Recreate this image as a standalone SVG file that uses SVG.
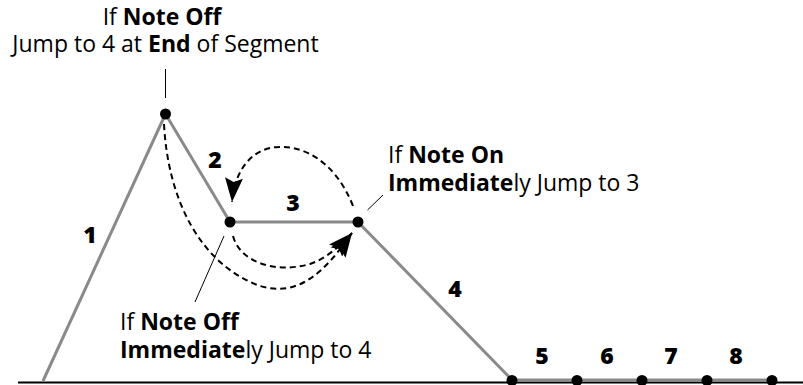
<svg xmlns="http://www.w3.org/2000/svg" width="803" height="385" viewBox="0 0 803 385">
<style>
.seg{stroke:#8a8a8a;stroke-width:3;fill:none;stroke-linejoin:round}
.dot{fill:#000}
.lead{stroke:#000;stroke-width:1;fill:none}
.dash{stroke:#000;stroke-width:2;fill:none;stroke-dasharray:6 4}
.t{font-family:"Open Sans","Liberation Sans",sans-serif;font-size:23px;fill:#000}
.b{font-weight:bold}
.num{font-family:"Open Sans","Liberation Sans",sans-serif;font-size:23px;font-weight:800;fill:#000;text-anchor:middle}
</style>
<defs>
<marker id="ah" viewBox="0 0 24 18" refX="24" refY="9" markerWidth="24" markerHeight="18" markerUnits="userSpaceOnUse" orient="auto">
<path d="M0,0 L24,9 L0,18 L4,9 Z" fill="#000"/>
</marker>
</defs>
<g id="baseline"><line x1="18" y1="382.5" x2="803" y2="382.5" stroke="#000" stroke-width="2"/></g>
<g id="envelope">
<polyline class="seg" points="43,381 165.5,114 230,222 358,222 512,380 772,380"/>
</g>
<g id="connectors">
<path class="dash" d="M164,124 C168,200 200,264 260,286 C300,298 326,270 352,233" marker-end="url(#ah)"/>
<path class="dash" d="M233,236 C240,262 275,274 310,264 C325,259 338,248 352,233" marker-end="url(#ah)"/>
<path class="dash" d="M353,206 C335,160 300,142 270,148 C245,154 234,178 232,202" marker-end="url(#ah)"/>
<line class="lead" x1="165.5" y1="69" x2="165.5" y2="98"/>
<line class="lead" x1="383" y1="195" x2="367.5" y2="210"/>
<line class="lead" x1="224" y1="236" x2="195" y2="302"/>
</g>
<g id="p1"><circle class="dot" cx="165.5" cy="114" r="5.5"/></g>
<g id="p2"><circle class="dot" cx="230" cy="222" r="5.5"/></g>
<g id="p3"><circle class="dot" cx="358" cy="222" r="5.5"/></g>
<g id="p4"><circle class="dot" cx="512" cy="380.5" r="5.5"/></g>
<g id="p5"><circle class="dot" cx="577" cy="380.5" r="5.5"/></g>
<g id="p6"><circle class="dot" cx="642" cy="380.5" r="5.5"/></g>
<g id="p7"><circle class="dot" cx="707" cy="380.5" r="5.5"/></g>
<g id="p8"><circle class="dot" cx="772" cy="380.5" r="5.5"/></g>
<g id="labels">
<text class="num" x="90" y="243">1</text>
<text class="num" x="215" y="168">2</text>
<text class="num" x="293" y="211">3</text>
<text class="num" x="455" y="297">4</text>
<text class="num" x="542" y="364">5</text>
<text class="num" x="607" y="364">6</text>
<text class="num" x="671" y="364">7</text>
<text class="num" x="736" y="364">8</text>
</g>
<g id="note-top">
<text class="t" x="162" y="25" text-anchor="middle">If <tspan class="b">Note Off</tspan></text>
<text class="t" x="165.5" y="52" text-anchor="middle">Jump to 4 at <tspan class="b">End</tspan> of Segment</text>
</g>
<g id="note-right">
<text class="t" x="388" y="163">If <tspan class="b">Note On</tspan></text>
<text class="t" x="388" y="191"><tspan class="b">Immediate</tspan>ly Jump to 3</text>
</g>
<g id="note-bottom">
<text class="t" x="120" y="330">If <tspan class="b">Note Off</tspan></text>
<text class="t" x="120" y="358"><tspan class="b">Immediate</tspan>ly Jump to 4</text>
</g>
</svg>
